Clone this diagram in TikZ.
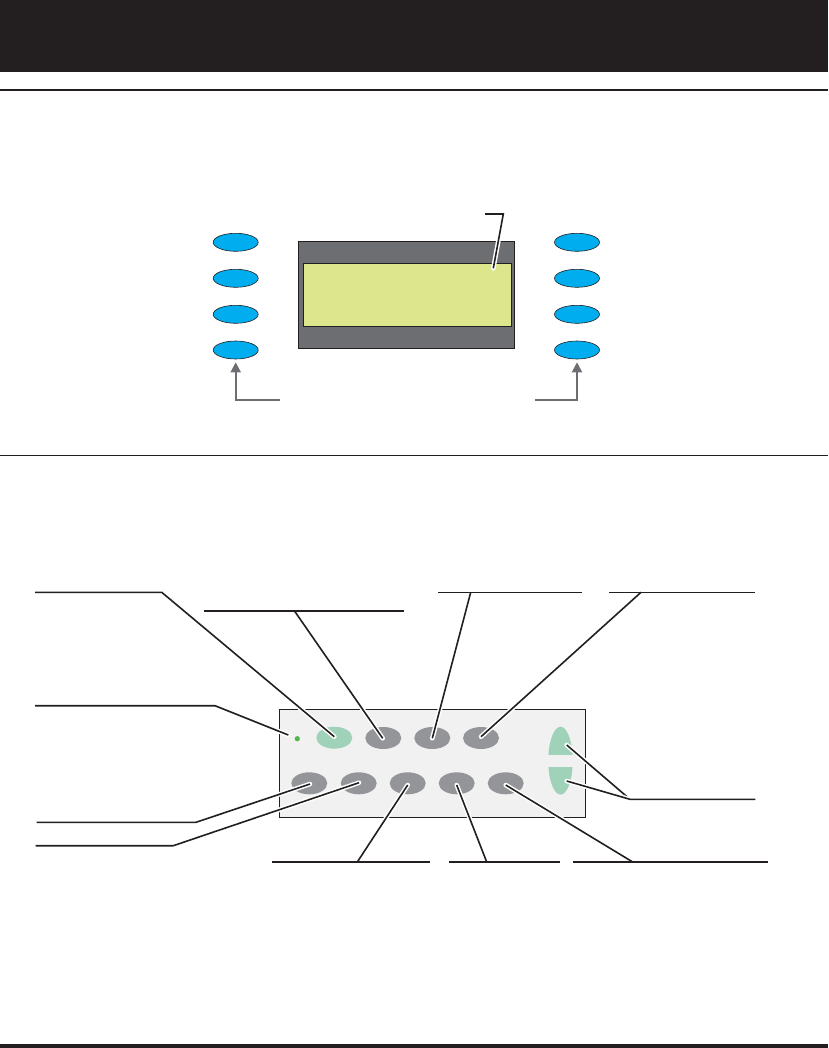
\documentclass[tikz,border=0pt]{standalone}
\usetikzlibrary{shapes.geometric,arrows.meta}
\definecolor{barblack}{HTML}{231F20}
\definecolor{dispgray}{HTML}{6D6E71}
\definecolor{lcd}{HTML}{DDE68D}
\definecolor{keyblue}{HTML}{00AEEF}
\definecolor{panelbg}{HTML}{F1F1F2}
\definecolor{keygray}{HTML}{939598}
\definecolor{keygreen}{HTML}{A0D2B9}
\definecolor{ledgreen}{HTML}{4DB848}
\begin{document}
\begin{tikzpicture}[x=1pt,y=-1pt,
  bluekey/.style={ellipse,draw=barblack,line width=0.6pt,fill=keyblue,minimum width=45pt,minimum height=18pt,inner sep=0pt},
  graykey/.style={ellipse,fill=keygray,minimum width=36pt,minimum height=22pt,inner sep=0pt},
  greenkey/.style={ellipse,fill=keygreen,minimum width=36pt,minimum height=22pt,inner sep=0pt},
  leader/.style={draw=barblack,line width=1.6pt,preaction={draw=white,line width=4.6pt,line cap=round}},
  leaderplain/.style={draw=barblack,line width=1.6pt},
  grayarrow/.style={draw=dispgray,line width=2pt,-{Triangle[length=10pt,width=10pt]}}]
\useasboundingbox (0,0) rectangle (828,1048);
% frame bars
\fill[barblack] (0,0) rectangle (828,72);
\fill[barblack] (0,89.3) rectangle (828,91.3);
\fill[barblack] (0,454.8) rectangle (828,455.9);
\fill[barblack] (0,1043.7) rectangle (828,1048);
% ---------- top: display ----------
\node[draw=barblack,line width=0.6pt,fill=dispgray,minimum width=216.7pt,minimum height=107pt,inner sep=0pt] (disp) at (406.3,294.5) {};
\node[draw=barblack,line width=0.6pt,fill=lcd,minimum width=207.7pt,minimum height=63.4pt,inner sep=0pt] (lcd) at (407,295) {};
\foreach \i/\y in {1/242.3,2/278.3,3/314.3,4/350}{
  \node[bluekey] (L\i) at (235.7,\y) {};
  \node[bluekey] (R\i) at (577,\y) {};
}
\coordinate (lcdtip) at (493.3,268.3);
\coordinate (lcdbend) at (503.3,214);
\coordinate (lcdend) at (485,214);
\draw[leader] (lcdtip) -- (lcdbend) -- (lcdend);
\coordinate (la) at (280,400);
\coordinate (lb) at (235.7,400);
\coordinate (ra) at (535,400);
\coordinate (rb) at (577,400);
\draw[grayarrow] (la) -- (lb) -- ([yshift=-3pt]L4.south);
\draw[grayarrow] (ra) -- (rb) -- ([yshift=-3pt]R4.south);
% ---------- bottom: panel ----------
\node[draw=barblack,line width=0.7pt,fill=panelbg,minimum width=306pt,minimum height=108pt,inner sep=0pt] (panel) at (432.3,763.3) {};
\fill[ledgreen] (297.3,738.7) circle (2.6pt);
\coordinate (led) at (297.3,738.7);
\node[greenkey] (T1) at (334.3,737.7) {};
\node[graykey] (T2) at (383.3,738) {};
\node[graykey] (T3) at (432.3,738) {};
\node[graykey] (T4) at (481,738) {};
\foreach \i/\x in {1/309.3,2/358.7,3/407.7,4/456.7,5/505.7}{
  \node[graykey] (B\i) at (\x,783.3) {};
}
\node[ellipse,fill=keygreen,minimum width=24.5pt,minimum height=68pt,inner sep=0pt] (side) at (560.5,760.7) {};
\fill[panelbg] (545,755) rectangle (576,766.7);
% leader coordinates
\coordinate (c1a) at (334.3,736.7); \coordinate (c1b) at (161.7,592.3); \coordinate (c1c) at (35,592.3);
\coordinate (c2a) at (382.7,738.3); \coordinate (c2j) at (294.3,610.7); \coordinate (c2l) at (204.3,610.7); \coordinate (c2r) at (404.3,610.7);
\coordinate (c3a) at (432.3,738.3); \coordinate (c3j) at (470.7,592.3); \coordinate (c3l) at (438.3,592.3); \coordinate (c3r) at (581.7,592.3);
\coordinate (c4a) at (481,736.7); \coordinate (c4j) at (641,592.3); \coordinate (c4l) at (609.3,592.3); \coordinate (c4r) at (755.3,592.3);
\coordinate (c5a) at (288.3,735); \coordinate (c5b) at (215,705.7); \coordinate (c5c) at (35,705.7);
\coordinate (c6a) at (310,784); \coordinate (c6b) at (196,822.3); \coordinate (c6c) at (36.7,822.3);
\coordinate (c7a) at (359,782.7); \coordinate (c7b) at (173.3,845.7); \coordinate (c7c) at (35.7,845.7);
\coordinate (c8a) at (407.7,785); \coordinate (c8j) at (357.3,862); \coordinate (c8l) at (271.7,862); \coordinate (c8r) at (430,862);
\coordinate (c9a) at (456.7,785); \coordinate (c9j) at (486.7,862); \coordinate (c9l) at (449,862); \coordinate (c9r) at (560,862);
\coordinate (c10a) at (505.7,785); \coordinate (c10j) at (632.7,862); \coordinate (c10l) at (573.3,862); \coordinate (c10r) at (768.3,862);
\coordinate (c11a) at (566.7,745); \coordinate (c11b) at (566.7,781); \coordinate (c11j) at (630,799.3); \coordinate (c11r) at (755.3,799.3);
% leaders
\draw[leader] (c1a) -- (c1b) -- (c1c);
\draw[leader] (c2a) -- (c2j);
\draw[leaderplain] (c2l) -- (c2r);
\draw[leader] (c3a) -- (c3j);
\draw[leaderplain] (c3l) -- (c3r);
\draw[leader] (c4a) -- (c4j);
\draw[leaderplain] (c4l) -- (c4r);
\draw[leader] (c5a) -- (c5b) -- (c5c);
\draw[leader] (c6a) -- (c6b) -- (c6c);
\draw[leader] (c7a) -- (c7b) -- (c7c);
\draw[leader] (c8a) -- (c8j);
\draw[leaderplain] (c8l) -- (c8r);
\draw[leader] (c9a) -- (c9j);
\draw[leaderplain] (c9l) -- (c9r);
\draw[leader] (c10a) -- (c10j);
\draw[leaderplain] (c10l) -- (c10r);
\draw[leader] (c11a) -- (c11j);
\draw[leader] (c11b) -- (c11j) -- (c11r);
\end{tikzpicture}
\end{document}
